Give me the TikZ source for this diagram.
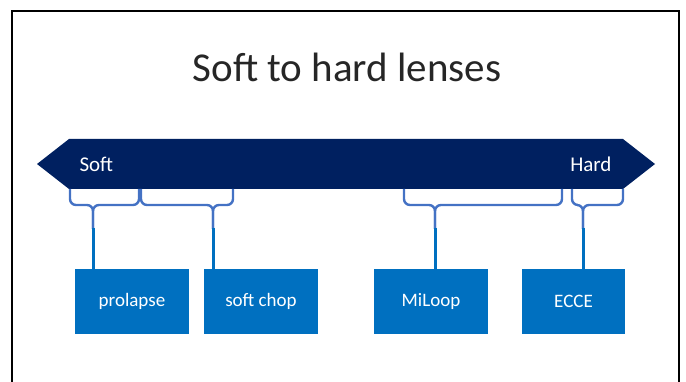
\documentclass[tikz,border=0pt]{standalone}
\usepackage{fontspec}
\setmainfont{Carlito}
\usepackage{tikz}
\usetikzlibrary{calc}
\definecolor{navy}{RGB}{0,32,96}
\definecolor{boxblue}{RGB}{0,112,192}
\definecolor{bracecol}{RGB}{68,114,196}

\begin{document}
\begin{tikzpicture}[x=1pt,y=-1pt]

% Define styles
\tikzset{
    lensbox/.style={fill=boxblue, minimum width=114pt, minimum height=65pt, inner sep=0pt, text=white, font=\fontsize{19}{22}\selectfont},
    bracket/.style={draw=bracecol, line width=2.4pt, rounded corners=6pt},
    link/.style={draw=boxblue, line width=3pt},
    bandtext/.style={text=white, font=\fontsize{21}{25}\selectfont}
}

\useasboundingbox (0,0) rectangle (686,382);

% slide frame
\draw[line width=2.4pt] (12,395) -- (12,11) -- (679,11) -- (679,395);

% title
\node[text=black!85, font=\fontsize{41}{48}\selectfont] (title) at (347,67) {Soft to hard lenses};

% soft to hard band
\fill[navy] (37,164) -- (69,139) -- (623,139) -- (655,164) -- (623,189) -- (69,189) -- cycle;
\node[bandtext, anchor=west] (soft) at (76,164) {Soft};
\node[bandtext, anchor=east] (hard) at (615,164) {Hard};

% braces under the band
\foreach \a/\t/\b/\n in {70/93/139/A, 141/213/233/B, 404/435/562/C, 572/583/623/D}{
    \draw[bracket] (\a,189) -- (\a,205) -- (\t,205) -- (\t,229);
    \draw[bracket] (\b,189) -- (\b,205) -- (\t,205) -- (\t,229);
    \coordinate (tip\n) at (\t,228);
}

% lens boxes
\node[lensbox] (prolapse) at (132,301.5) {prolapse};
\node[lensbox] (softchop) at (261,301.5) {soft chop};
\node[lensbox] (miloop) at (431,301.5) {MiLoop};
\node[lensbox, minimum width=103pt] (ecce) at (573.5,301.5) {ECCE};

% links from braces to boxes
\draw[link] (tipA) -- (tipA |- prolapse.north);
\draw[link] (tipB) -- (tipB |- softchop.north);
\draw[link] (tipC) -- (tipC |- miloop.north);
\draw[link] (tipD) -- (tipD |- ecce.north);

\end{tikzpicture}
\end{document}
